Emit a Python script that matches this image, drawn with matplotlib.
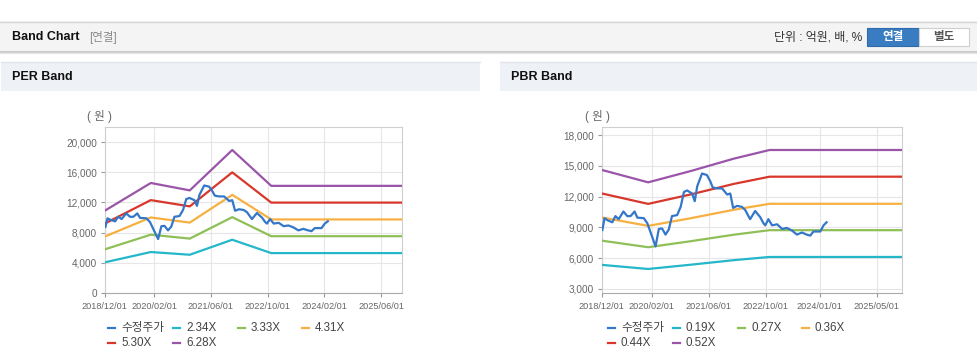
import datetime as dt
import matplotlib
matplotlib.use("Agg")
import matplotlib.pyplot as plt
import matplotlib.dates as mdates
from matplotlib.patches import Rectangle
from matplotlib.lines import Line2D
from matplotlib.ticker import FuncFormatter

plt.rcParams['font.family'] = ['Liberation Sans', 'Noto Sans CJK KR', 'DejaVu Sans']

# --- data ---------------------------------------------------------------
price_dates = ["2018-12-07", "2018-12-25", "2019-01-19", "2019-03-01", "2019-03-28",
               "2019-04-25", "2019-06-04", "2019-07-07", "2019-08-04", "2019-09-07",
               "2019-10-01", "2019-11-25", "2019-12-25", "2020-01-22", "2020-03-04",
               "2020-04-01", "2020-04-28", "2020-05-28", "2020-06-25", "2020-07-22",
               "2020-09-04", "2020-10-04", "2020-11-01", "2020-11-28", "2021-01-10",
               "2021-02-01", "2021-02-22", "2021-04-04", "2021-05-16", "2021-06-13",
               "2021-07-04", "2021-08-10", "2021-09-22", "2021-11-04", "2021-12-01",
               "2021-12-25", "2022-01-28", "2022-03-10", "2022-04-07", "2022-05-19",
               "2022-07-01", "2022-08-13", "2022-09-10", "2022-09-25", "2022-10-22",
               "2022-11-22", "2023-01-04", "2023-02-16", "2023-03-28", "2023-05-10",
               "2023-06-22", "2023-08-04", "2023-09-13", "2023-10-13", "2023-11-10",
               "2024-01-07", "2024-02-04", "2024-03-01"]
price = [8750, 9900, 9700, 9500, 10100, 9800, 10550, 10100, 10100, 10550,
         9950, 9900, 9400, 8500, 7150, 8850, 8900, 8300, 8800, 10100,
         10200, 11000, 12450, 12600, 12300, 11550, 13000, 14250, 14100, 13500,
         12900, 12800, 12800, 12200, 12300, 10900, 11100, 11000, 10700, 9800,
         10600, 10000, 9400, 9200, 9800, 9200, 9300, 8850, 8950, 8700,
         8300, 8500, 8300, 8200, 8600, 8600, 9200, 9500]

per_dates = ["2018-12-01", "2020-01-01", "2020-12-01", "2021-12-01", "2022-11-01", "2025-12-01"]
per_labels = ["2.34X", "3.33X", "4.31X", "5.30X", "6.28X"]
per_bands = [
    [4060, 5430, 5070, 7060, 5290, 5290],
    [5780, 7730, 7210, 10050, 7530, 7530],
    [7480, 10010, 9330, 13010, 9750, 9750],
    [9200, 12310, 11480, 15990, 11980, 11980],
    [10900, 14580, 13600, 18950, 14200, 14200],
]
per_xticks = ["2018-12-01", "2020-02-01", "2021-06-01", "2022-10-01", "2024-02-01", "2025-06-01"]
per_yticks = [0, 4000, 8000, 12000, 16000, 20000]

pbr_dates = ["2018-12-01", "2020-01-01", "2021-01-01", "2022-01-01", "2022-11-01", "2025-12-01"]
pbr_labels = ["0.19X", "0.27X", "0.36X", "0.44X", "0.52X"]
pbr_bands = [
    [5350, 4950, 5370, 5810, 6120, 6120],
    [7710, 7070, 7660, 8290, 8730, 8730],
    [9970, 9150, 9900, 10720, 11300, 11300],
    [12310, 11290, 12220, 13240, 13940, 13940],
    [14600, 13390, 14500, 15700, 16540, 16540],
]
pbr_xticks = ["2018-12-01", "2020-02-01", "2021-06-01", "2022-10-01", "2024-01-01", "2025-05-01"]
pbr_yticks = [3000, 6000, 9000, 12000, 15000, 18000]

price_label = "수정주가"
price_color = "#3477c9"
band_colors = ["#24b7c9", "#8fbf57", "#f6b042", "#d8372c", "#9a55a9"]

# --- figure -------------------------------------------------------------
W, H = 978, 361
fig = plt.figure(figsize=(W / 100, H / 100), dpi=100)


def fx(x):
    return x / W


def fy(y):
    return 1 - y / H


def rect(x0, y0, x1, y1, fc, ec="none", lw=0.8):
    fig.add_artist(Rectangle((fx(x0), fy(y1)), fx(x1) - fx(x0), fy(y0) - fy(y1),
                             transform=fig.transFigure, facecolor=fc, edgecolor=ec, lw=lw))


def hline(x0, x1, y, color, lw=1.0):
    fig.add_artist(Line2D([fx(x0), fx(x1)], [fy(y), fy(y)], transform=fig.transFigure,
                          color=color, lw=lw))


# top bar
rect(0, 21, W, 52, "#f4f4f4")
hline(0, W, 21.5, "#d6d6d6")
hline(0, W, 52, "#c4c4c4", lw=1.2)
hline(0, W, 53.2, "#e6e6e6", lw=1.0)
fig.text(fx(12), fy(37), "Band Chart", fontsize=9, fontweight="bold", color="#111", va="center")
fig.text(fx(89), fy(37), "[연결]", fontsize=8.3, color="#8a8a8a", va="center")
fig.text(fx(862), fy(37), "단위 : 억원, 배, %", fontsize=8.6, color="#333", va="center", ha="right")
rect(867, 28, 919, 46, "#3a7cc2", ec="#2f6aab")
fig.text(fx(893), fy(37.3), "연결", fontsize=8.3, fontweight="bold", color="white", va="center", ha="center")
rect(919, 28, 969, 46, "white", ec="#cfcfcf")
fig.text(fx(944), fy(37.3), "별도", fontsize=8.3, fontweight="bold", color="#555", va="center", ha="center")

# panel headers
rect(1, 62, 480, 91, "#eef1f6")
hline(1, 480, 62.3, "#e2e5ea")
fig.text(fx(12), fy(77), "PER Band", fontsize=9, fontweight="bold", color="#111", va="center")
rect(500, 62, W, 91, "#eef1f6")
hline(500, W, 62.3, "#e2e5ea")
fig.text(fx(511), fy(77), "PBR Band", fontsize=9, fontweight="bold", color="#111", va="center")


def to_dates(lst):
    return [dt.datetime.strptime(s, "%Y-%m-%d") for s in lst]


def band_chart(box, dates, bands, xticks, yticks, ylim):
    x0, y0, x1, y1 = box
    ax = fig.add_axes([fx(x0), fy(y1), fx(x1) - fx(x0), fy(y0) - fy(y1)])
    d = to_dates(dates)
    for vals, c in zip(bands, band_colors):
        ax.plot(d, vals, color=c, lw=1.6, zorder=3)
    ax.plot(to_dates(price_dates), price, color=price_color, lw=1.6, zorder=4)
    ax.set_xlim(dt.datetime(2018, 12, 1), dt.datetime(2025, 12, 1))
    ax.set_ylim(*ylim)
    ax.set_xticks(to_dates(xticks))
    ax.xaxis.set_major_formatter(mdates.DateFormatter("%Y/%m/%d"))
    ax.set_yticks(yticks)
    ax.yaxis.set_major_formatter(FuncFormatter(lambda v, p: f"{v:,.0f}"))
    ax.grid(True, color="#e6e6e6", lw=0.8, zorder=0)
    ax.tick_params(axis="x", labelsize=6.6, colors="#999", labelcolor="#666", length=3, pad=3.5)
    ax.tick_params(axis="y", labelsize=7.2, colors="#999", labelcolor="#666", length=3, pad=2.5)
    for s in ax.spines.values():
        s.set_color("#cfcfcf")
        s.set_linewidth(0.8)
    ax.spines["bottom"].set_color("#aaaaaa")
    return ax


band_chart((104.7, 127, 402.3, 293), per_dates, per_bands, per_xticks, per_yticks, (0, 22000))
fig.text(fx(99), fy(116), "( 원 )", fontsize=8.3, color="#666", va="center", ha="center")

band_chart((601.7, 127, 901.7, 293), pbr_dates, pbr_bands, pbr_xticks, pbr_yticks, (2610, 18780))
fig.text(fx(597), fy(116), "( 원 )", fontsize=8.3, color="#666", va="center", ha="center")


def legend(x0, labels):
    names = [price_label] + labels
    colors = [price_color] + band_colors
    cols = [0, 65, 130, 194]
    rows = [328, 343]
    for i, (name, c) in enumerate(zip(names, colors)):
        hx = x0 + cols[i % 4]
        y = rows[i // 4]
        hline(hx, hx + 7, y, c, lw=1.6)
        fig.text(fx(hx + 13), fy(y), name, fontsize=8.4, color="#444", va="center")


legend(108, per_labels)
legend(608, pbr_labels)

fig.savefig("out.png", dpi=100)
